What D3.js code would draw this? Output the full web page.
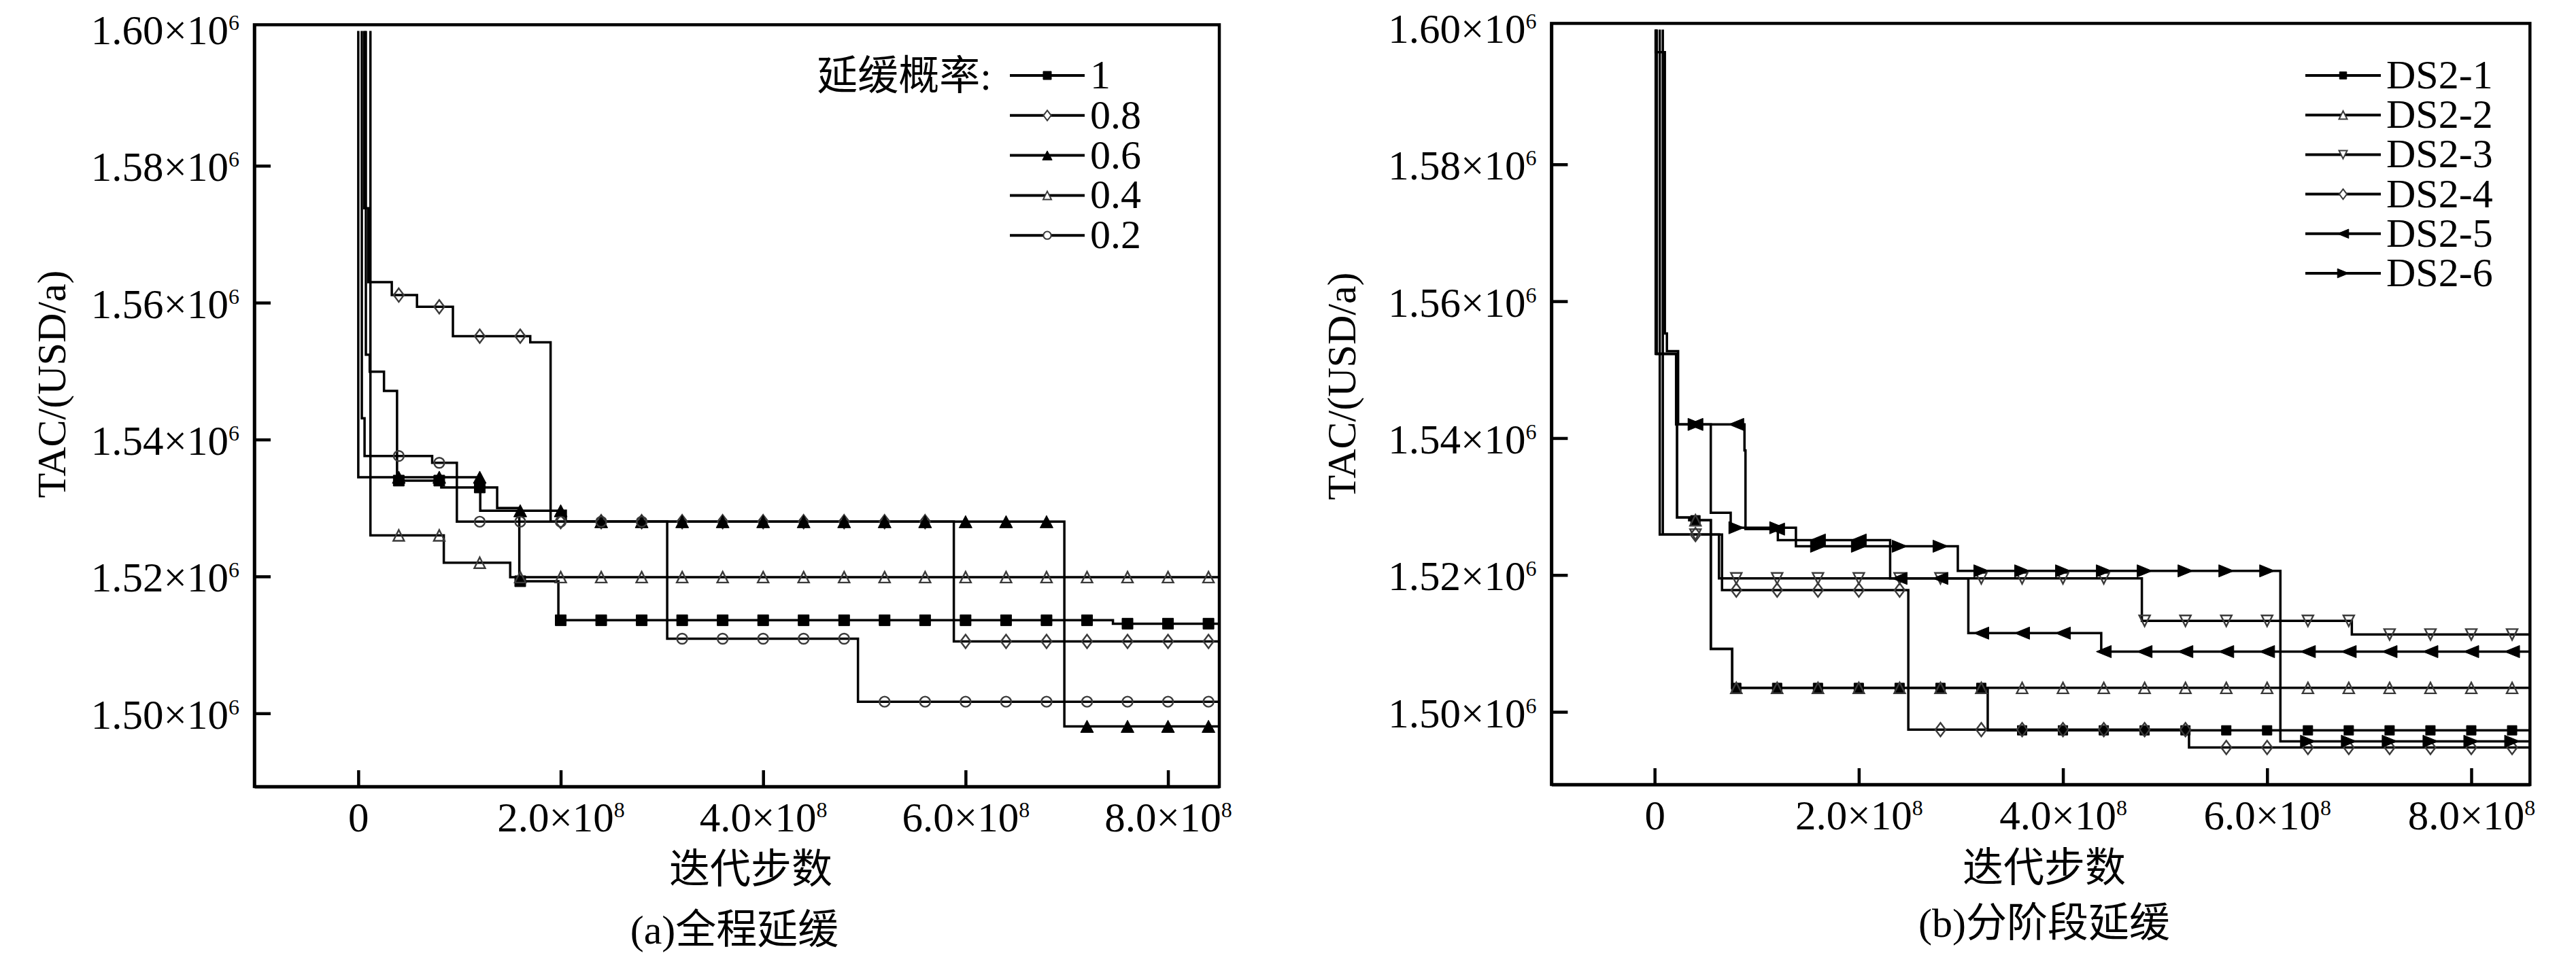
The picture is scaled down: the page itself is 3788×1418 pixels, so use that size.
<!DOCTYPE html>
<html><head><meta charset="utf-8">
<script src="https://cdn.jsdelivr.net/npm/d3@7"></script>
<style>
html,body{margin:0;padding:0;background:#fff;}
svg{display:block;background:#fff;}
</style></head><body>
<svg id="chart" width="3788" height="1418"></svg>
<script>
// ---------------- DATA (x: iterations ×1e8, y: TAC ×1e6 USD/a) ----------------
const yTickValues = [1.50, 1.52, 1.54, 1.56, 1.58, 1.60];
const yTickLabels = ["1.50×10", "1.52×10", "1.54×10", "1.56×10", "1.58×10", "1.60×10"];
const yTickExp = "6";
const xTickValues = [0, 2, 4, 6, 8];
const xTickLabels = ["0", "2.0×10", "4.0×10", "6.0×10", "8.0×10"];
const xTickExps = ["", "8", "8", "8", "8"];
const markerX = [0.4,0.8,1.2,1.6,2.0,2.4,2.8,3.2,3.6,4.0,4.4,4.8,5.2,5.6,6.0,6.4,6.8,7.2,7.6,8.0,8.4];

// Panel (a) 全程延缓 — 延缓概率
const namesA = ["1", "0.8", "0.6", "0.4", "0.2"];
const seriesA_p10 = [[0.075,1.5997],[0.075,1.5524],[0.113,1.5499],[0.254,1.5471],[0.383,1.5340],[0.82,1.5330],[1.372,1.5300],[1.591,1.5193],[1.977,1.5136],[7.456,1.5131],[8.5,1.5131]];
const seriesA_p08 = [[0.06,1.5997],[0.06,1.5738],[0.10,1.5630],[0.331,1.5611],[0.58,1.5594],[0.935,1.5551],[1.699,1.5542],[1.90,1.5280],[5.884,1.5105],[8.5,1.5105]];
const seriesA_p06 = [[0.0,1.5997],[0.0,1.5345],[1.205,1.5296],[2.05,1.5280],[6.976,1.4981],[8.5,1.4981]];
const seriesA_p04 = [[0.12,1.5997],[0.12,1.5260],[0.845,1.5220],[1.501,1.5199],[8.5,1.5199]];
const seriesA_p02 = [[0.035,1.5997],[0.035,1.5431],[0.062,1.5376],[0.73,1.5366],[0.974,1.5280],[3.052,1.5109],[4.937,1.5017],[8.5,1.5017]];

// Panel (b) 分阶段延缓
const namesB = ["DS2-1", "DS2-2", "DS2-3", "DS2-4", "DS2-5", "DS2-6"];
const seriesB_1 = [[0.02,1.5997],[0.02,1.5523],[0.22,1.5284],[0.34,1.5280],[0.55,1.5092],[0.76,1.5035],[3.263,1.4973],[8.57,1.4973]];
const seriesB_2 = [[0.02,1.5997],[0.02,1.5523],[0.22,1.5284],[0.34,1.5280],[0.55,1.5092],[0.76,1.5035],[8.57,1.5035]];
const seriesB_3 = [[0.05,1.5997],[0.05,1.5259],[0.63,1.5195],[4.773,1.5133],[6.83,1.5113],[8.57,1.5113]];
const seriesB_4 = [[0.08,1.5997],[0.08,1.5259],[0.66,1.5178],[2.485,1.4974],[5.235,1.4948],[8.57,1.4948]];
const seriesB_5 = [[0.01,1.5997],[0.01,1.5523],[0.21,1.5420],[0.88,1.5382],[0.89,1.5267],[1.207,1.5251],[2.307,1.5195],[3.073,1.5115],[4.375,1.5088],[8.57,1.5088]];
const seriesB_6 = [[0.01,1.5997],[0.01,1.5964],[0.10,1.5553],[0.12,1.5527],[0.23,1.5420],[0.55,1.5291],[0.745,1.5269],[1.384,1.5242],[2.97,1.5206],[6.13,1.4957],[8.57,1.4957]];

// ---------------- DRAWING ----------------
const SERIF = "'Liberation Serif', Tinos, 'Times New Roman', 'DejaVu Serif', serif";
const MIXED = "'Liberation Serif', Tinos, 'Times New Roman', 'Noto Sans CJK SC', serif";
const svg = d3.select("#chart");

function markerPath(type, k) {
  switch (type) {
    case "square": { const s = 8*k; return `M${-s},${-s}H${s}V${s}H${-s}Z`; }
    case "squareS": { const s = 7*k; return `M${-s},${-s}H${s}V${s}H${-s}Z`; }
    case "circle": { const s = 7.5*k; return `M${s},0A${s},${s} 0 1,1 ${-s},0A${s},${s} 0 1,1 ${s},0Z`; }
    case "triUp": { const w = 9.5*k, h = 9*k; return `M0,${-h}L${w},${h}L${-w},${h}Z`; }
    case "triUpS": { const w = 8*k, h = 8*k; return `M0,${-h}L${w},${h}L${-w},${h}Z`; }
    case "triDown": { const w = 8*k, h = 8*k; return `M0,${h}L${w},${-h}L${-w},${-h}Z`; }
    case "diamond": { const w = 7.5*k, h = 10*k; return `M0,${-h}L${w},0L0,${h}L${-w},0Z`; }
    case "triLeft": { const w = 11*k, h = 9*k; return `M${-w},0L${w},${-h}L${w},${h}Z`; }
    case "triRight": { const w = 11*k, h = 9*k; return `M${w},0L${-w},${-h}L${-w},${h}Z`; }
  }
}

function stepValue(pts, xv) {
  let v = null;
  for (const p of pts) { if (p[0] <= xv) v = p[1]; }
  return v;
}

function drawPanel(cfg) {
  const g = svg.append("g");
  const x = cfg.x, y = cfg.y;
  const [x0, x1] = x.range(), [y0, y1] = y.range();

  const line = d3.line().x(d => x(d[0])).y(d => y(d[1])).curve(d3.curveStepAfter);
  cfg.series.forEach(s => {
    g.append("path").attr("d", line(s.data)).attr("fill", "none")
      .attr("stroke", "#000").attr("stroke-width", 3.5).attr("stroke-linejoin", "miter");
  });
  cfg.series.forEach(s => {
    markerX.forEach(mx => {
      const v = stepValue(s.data, mx);
      if (v === null) return;
      g.append("path").attr("d", markerPath(s.marker, 1))
        .attr("transform", `translate(${x(mx)},${y(v)})`)
        .attr("fill", s.filled ? "#000" : "none")
        .attr("stroke", s.filled ? "#000" : "#3a3a3a")
        .attr("stroke-width", s.filled ? 1 : 2.4);
    });
  });

  g.append("rect").attr("x", x0).attr("y", y1).attr("width", x1 - x0).attr("height", y0 - y1)
    .attr("fill", "none").attr("stroke", "#000").attr("stroke-width", 4.5);

  const ya = g.append("g").attr("transform", `translate(${x0},0)`)
    .call(d3.axisLeft(y).tickValues(yTickValues).tickSize(-24).tickSizeOuter(0).tickPadding(22));
  ya.select(".domain").attr("stroke-width", 4.5);
  ya.attr("font-family", SERIF).attr("font-size", 61);
  ya.selectAll(".tick line").attr("stroke-width", 4.5).attr("opacity", d => d >= 1.599 ? 0 : 1);
  ya.selectAll(".tick text").attr("dy", "0.36em").attr("font-family", SERIF).each(function (d, i) {
    const t = d3.select(this); t.text(null);
    t.append("tspan").text(yTickLabels[i]);
    t.append("tspan").attr("font-size", 32).attr("dy", -21).text(yTickExp);
  });

  const xa = g.append("g").attr("transform", `translate(0,${y0})`)
    .call(d3.axisBottom(x).tickValues(xTickValues).tickSize(-24).tickSizeOuter(0).tickPadding(23));
  xa.select(".domain").attr("stroke-width", 4.5);
  xa.attr("font-family", SERIF).attr("font-size", 61);
  xa.selectAll(".tick line").attr("stroke-width", 4.5);
  xa.selectAll(".tick text").attr("font-family", SERIF).each(function (d, i) {
    const t = d3.select(this); t.text(null);
    t.append("tspan").text(xTickLabels[i]);
    if (xTickExps[i]) t.append("tspan").attr("font-size", 32).attr("dy", -21).text(xTickExps[i]);
  });

  g.append("text").attr("transform", `translate(${cfg.yTitleX},${cfg.yTitleY}) rotate(-90)`)
    .attr("text-anchor", "middle").attr("font-family", SERIF).attr("font-size", 60).text("TAC/(USD/a)");
  g.append("text").attr("x", cfg.xTitleX).attr("y", cfg.xTitleY)
    .attr("text-anchor", "middle").attr("font-family", MIXED).attr("font-size", 60).text("迭代步数");
  g.append("text").attr("x", cfg.capX).attr("y", cfg.capY)
    .attr("text-anchor", "middle").attr("font-family", MIXED).attr("font-size", 60).text(cfg.caption);

  const L = cfg.legend;
  if (L.title) {
    g.append("text").attr("x", L.titleX).attr("y", L.y0 + 21).attr("text-anchor", "end")
      .attr("font-family", MIXED).attr("font-size", 60).text(L.title);
  }
  cfg.series.forEach((s, i) => {
    const ry = L.y0 + i * L.step;
    g.append("line").attr("x1", L.lx1).attr("x2", L.lx2).attr("y1", ry).attr("y2", ry)
      .attr("stroke", "#000").attr("stroke-width", 4);
    g.append("path").attr("d", markerPath(s.marker, 0.75))
      .attr("transform", `translate(${(L.lx1 + L.lx2) / 2},${ry})`)
      .attr("fill", s.filled ? "#000" : "#fff")
      .attr("stroke", s.filled ? "#000" : "#3a3a3a").attr("stroke-width", s.filled ? 1 : 2);
    g.append("text").attr("x", L.tx).attr("y", ry + 19).attr("font-family", SERIF)
      .attr("font-size", 60).text(s.name);
  });
}

const seriesA = [
  {name: namesA[0], data: seriesA_p10, marker: "square", filled: true},
  {name: namesA[1], data: seriesA_p08, marker: "diamond", filled: false},
  {name: namesA[2], data: seriesA_p06, marker: "triUp", filled: true},
  {name: namesA[3], data: seriesA_p04, marker: "triUpS", filled: false},
  {name: namesA[4], data: seriesA_p02, marker: "circle", filled: false}
];
const seriesB = [
  {name: namesB[0], data: seriesB_1, marker: "squareS", filled: true},
  {name: namesB[1], data: seriesB_2, marker: "triUpS", filled: false},
  {name: namesB[2], data: seriesB_3, marker: "triDown", filled: false},
  {name: namesB[3], data: seriesB_4, marker: "diamond", filled: false},
  {name: namesB[4], data: seriesB_5, marker: "triLeft", filled: true},
  {name: namesB[5], data: seriesB_6, marker: "triRight", filled: true}
];

drawPanel({
  x: d3.scaleLinear().domain([-1.027, 8.507]).range([374, 1793]),
  y: d3.scaleLinear().domain([1.4893, 1.6006]).range([1157, 36.4]),
  series: seriesA,
  yTitleX: 96, yTitleY: 565,
  xTitleX: 1104, xTitleY: 1299,
  capX: 1080, capY: 1388, caption: "(a)全程延缓",
  legend: {title: "延缓概率:", titleX: 1458, y0: 111, step: 58.8, lx1: 1485, lx2: 1595, tx: 1603}
});
drawPanel({
  x: d3.scaleLinear().domain([-1.011, 8.575]).range([2281.4, 3720.3]),
  y: d3.scaleLinear().domain([1.48938, 1.6006]).range([1154, 34.4]),
  series: seriesB,
  yTitleX: 1993, yTitleY: 568,
  xTitleX: 3006, xTitleY: 1297,
  capX: 3006, capY: 1378, caption: "(b)分阶段延缓",
  legend: {title: null, y0: 111, step: 58.2, lx1: 3390, lx2: 3501, tx: 3509}
});
</script>
</body></html>
